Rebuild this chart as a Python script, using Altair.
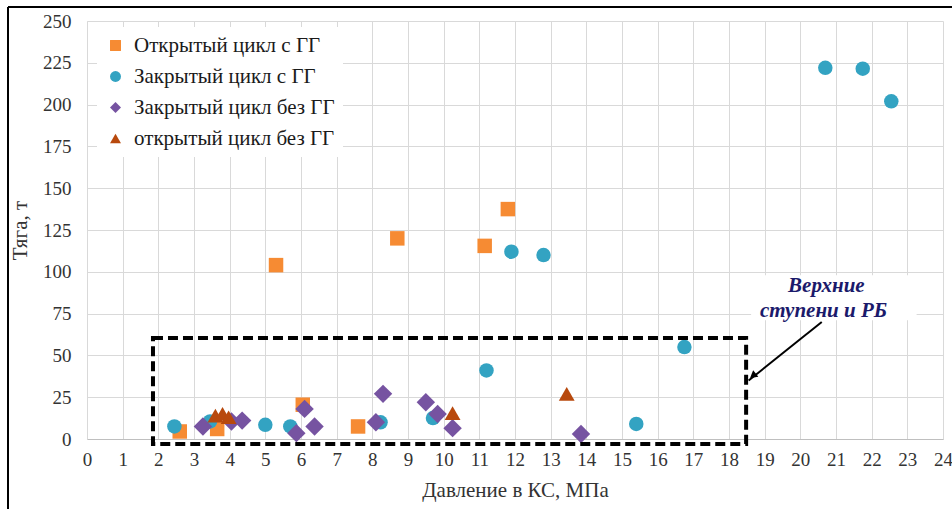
import altair as alt
import pandas as pd

# ---- data ----
series_names = ["Открытый цикл с ГГ", "Закрытый цикл с ГГ", "Закрытый цикл без ГГ", "открытый цикл без ГГ"]
series_colors = ["#F68B33", "#33A3C2", "#7653A1", "#B8490D"]
series_shapes = ["square", "circle", "diamond", "triangle-up"]
series_sizes = [210, 210, 340, 250]

open_gg_x = [2.6, 3.65, 6.05, 7.6, 5.3, 8.7, 11.15, 11.8]
open_gg_y = [4.5, 6.0, 20.5, 7.5, 104, 120, 115.5, 137.5]

closed_gg_x = [2.45, 3.45, 5.0, 5.7, 8.23, 9.7, 11.2, 15.4, 16.75, 11.9, 12.8, 20.7, 21.75, 22.55]
closed_gg_y = [7.5, 10.5, 8.5, 7.5, 10, 12.5, 41, 9, 55, 112, 110, 222, 221.5, 202]

closed_nogg_x = [3.25, 4.05, 4.35, 5.87, 6.1, 6.38, 8.1, 8.3, 9.5, 9.83, 10.25, 13.85]
closed_nogg_y = [7.5, 10.5, 11, 3.5, 18, 7.5, 10, 27, 22, 15, 6.5, 3]

open_nogg_x = [3.6, 3.8, 3.97, 10.25, 13.45]
open_nogg_y = [14, 15, 13, 15.5, 27]

x_ticks = list(range(0, 25))
y_ticks = list(range(0, 251, 25))

# annotation (dashed region, arrow, label)
region_x = [1.85, 18.48]
region_y = [-3.0, 60.4]
arrow_from = [20.6, 70.0]
arrow_to = [18.55, 35.0]
label_lines = ["Верхние", "ступени и РБ"]
label_x = [20.73, 20.65]
label_y = [91.5, 76.5]
label_box_x = [18.62, 23.26]
label_box_y = [71.0, 98.0]

FONT = "Liberation Serif"

rows = []
for name, size, xs, ys in zip(series_names, series_sizes,
                              [open_gg_x, closed_gg_x, closed_nogg_x, open_nogg_x],
                              [open_gg_y, closed_gg_y, closed_nogg_y, open_nogg_y]):
    for x, y in zip(xs, ys):
        rows.append({"series": name, "p": x, "t": y, "sz": size})
df = pd.DataFrame(rows)

xscale = alt.Scale(domain=[0, 24], nice=False, zero=False)
yscale = alt.Scale(domain=[0, 250], nice=False, zero=False)

x_axis = alt.Axis(values=x_ticks, title="Давление в КС, МПа",
                  grid=True, ticks=False, labelPadding=11, titlePadding=10,
                  labelOverlap=False, labelFlush=False,
                  domainColor="#bfbfbf", gridColor="#d9d9d9")
y_axis = alt.Axis(values=y_ticks, title="Тяга, т",
                  grid=True, ticks=False, labelPadding=16, titlePadding=12,
                  labelOverlap=False, labelFlush=False,
                  domainColor="#d9d9d9", gridColor="#d9d9d9")


def xa(field):
    return alt.X(field, scale=xscale, axis=x_axis)


def ya(field):
    return alt.Y(field, scale=yscale, axis=y_axis)


leg = alt.Legend(title=None, orient="none", legendX=10, legendY=6,
                 fillColor="white", padding=8, labelLimit=0)

points = alt.Chart(df).mark_point(filled=True, opacity=1).encode(
    x=xa("p:Q"),
    y=ya("t:Q"),
    color=alt.Color("series:N", scale=alt.Scale(domain=series_names, range=series_colors),
                    legend=leg),
    shape=alt.Shape("series:N", scale=alt.Scale(domain=series_names, range=series_shapes),
                    legend=leg),
    size=alt.Size("sz:Q", scale=None, legend=None),
)

box_df = pd.DataFrame({"x": [label_box_x[0]], "x2": [label_box_x[1]],
                       "y": [label_box_y[0]], "y2": [label_box_y[1]]})
label_box = alt.Chart(box_df).mark_rect(fill="white").encode(
    x=xa("x:Q"), x2="x2", y=ya("y:Q"), y2="y2")

reg_df = pd.DataFrame({"x": [region_x[0]], "x2": [region_x[1]],
                       "y": [region_y[0]], "y2": [region_y[1]]})
region = alt.Chart(reg_df).mark_rect(fillOpacity=0, stroke="black", strokeWidth=4,
                                     strokeDash=[10, 5]).encode(
    x=xa("x:Q"), x2="x2", y=ya("y:Q"), y2="y2")

arr_df = pd.DataFrame({"x": [arrow_from[0]], "y": [arrow_from[1]],
                       "x2": [arrow_to[0]], "y2": [arrow_to[1]]})
arrow_line = alt.Chart(arr_df).mark_rule(color="black", strokeWidth=2).encode(
    x=xa("x:Q"), y=ya("y:Q"), x2="x2", y2="y2")
head_df = pd.DataFrame({"x": [arrow_to[0] + 0.12], "y": [arrow_to[1] + 2.8]})
arrow_head = alt.Chart(head_df).mark_point(shape="triangle-up", filled=True, color="black",
                                           opacity=1, size=70, angle=232).encode(
    x=xa("x:Q"), y=ya("y:Q"))

lab_df = pd.DataFrame({"x": label_x, "y": label_y, "text": label_lines})
label = alt.Chart(lab_df).mark_text(font=FONT, fontSize=21, fontWeight="bold",
                                    fontStyle="italic", color="#1B1A6B",
                                    align="center", baseline="middle").encode(
    x=xa("x:Q"), y=ya("y:Q"), text="text:N")

border_left = alt.Chart(pd.DataFrame({"a": [0]})).mark_rule(color="black", strokeWidth=2).encode(
    x=alt.value(-79), y=alt.value(-14), y2=alt.value(500))
border_top = alt.Chart(pd.DataFrame({"a": [0]})).mark_rule(color="black", strokeWidth=2).encode(
    x=alt.value(-79), x2=alt.value(880), y=alt.value(-14))

chart = alt.layer(label_box, points, region, arrow_line, arrow_head, label,
                  border_left, border_top).properties(
    width=856, height=418,
    autosize=alt.AutoSizeParams(type="none"),
    padding={"left": 87, "top": 21, "right": 9, "bottom": 70},
    background="white",
).configure_view(stroke=None).configure_axis(
    labelFont=FONT, titleFont=FONT, labelFontSize=19, titleFontSize=21,
    labelColor="#333333", titleColor="#333333", titleFontWeight="normal",
).configure_legend(
    labelFont=FONT, labelFontSize=21, labelColor="#1a1a1a", symbolSize=120,
    rowPadding=9, labelOffset=8, symbolStrokeWidth=0,
)

chart.save("out.html", embed_options={"renderer": "svg", "actions": False})
